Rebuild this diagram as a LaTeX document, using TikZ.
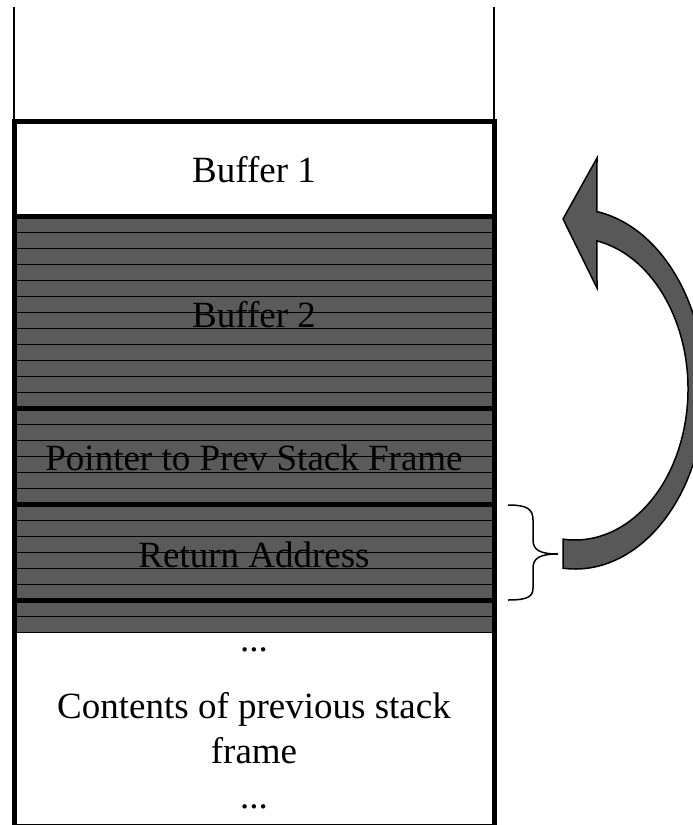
\documentclass[tikz,border=0pt]{standalone}
\usepackage{fontspec}
\setmainfont{Liberation Serif}
\definecolor{slab}{RGB}{90,90,90}
\definecolor{arrowgray}{RGB}{88,88,88}
\begin{document}
\begin{tikzpicture}[x=1bp,y=-1bp,
  lbl/.style={font=\fontsize{37bp}{45bp}\selectfont, anchor=base, inner sep=0pt},
  thinrule/.style={line width=1.8bp},
  thickrule/.style={line width=5bp},
  bend arrow/.style={fill=arrowgray, draw=black, line width=1.5bp, line join=miter},
  bracepen/.style={draw=black, line width=1.5bp}]
\useasboundingbox (0,0) rectangle (693,825);
\clip (0,0) rectangle (693,825);

% open top of the stack
\draw[line width=1.5bp] (14,7) -- (14,121);
\draw[line width=1.5bp] (494,7) -- (494,121);

% overwritten (shaded) region
\fill[slab] (14,216.5) rectangle (494,632.5);

% labels
\node[lbl] (buf1)  at (254,182) {Buffer 1};
\node[lbl] (buf2)  at (254,327) {Buffer 2};
\node[lbl] (prev)  at (254,470) {Pointer to Prev Stack Frame};
\node[lbl] (ret)   at (254,567) {Return Address};
\node[lbl] (dotsA) at (254,651) {...};
\node[lbl] (contA) at (254,718) {Contents of previous stack};
\node[lbl] (contB) at (254,763) {frame};
\node[lbl] (dotsB) at (254,808) {...};

% ruling of the shaded region
\foreach \k in {1,...,26}
  \draw[thinrule] (14,{216.5+16*\k}) -- (494,{216.5+16*\k});
\foreach \k in {0,12,18,24}
  \draw[thickrule] (14,{216.5+16*\k}) -- (494,{216.5+16*\k});

% stack frame outline
\draw[thickrule] (14,121) rectangle (494,826.5);

% brace beside the return address
\draw[bracepen] (508,505) .. controls (527,505) and (533,509) .. (533,520)
  -- (533,540) .. controls (533,550) and (540,554) .. (558,554)
  .. controls (540,554) and (533,558) .. (533,568)
  -- (533,588) .. controls (533,597) and (527,600) .. (508,600);

% curved block arrow
\begin{scope}[shift={(575,389)}]
\filldraw[bend arrow] (95.3:130 and 180)
  arc[start angle=95.3, end angle=-80.3, x radius=130, y radius=180]
  -- (22,-231) -- (-12,-170) -- (22,-101)
  -- (-78.8:113 and 151)
  arc[start angle=-78.8, end angle=96.1, x radius=113, y radius=151]
  -- cycle;
\end{scope}
\end{tikzpicture}
\end{document}
